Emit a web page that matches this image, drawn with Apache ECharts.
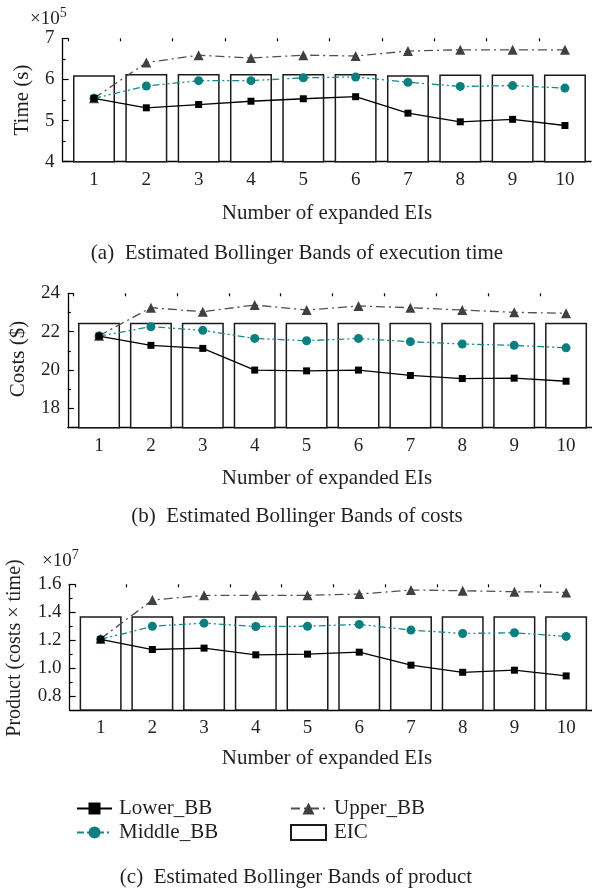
<!DOCTYPE html>
<html><head><meta charset="utf-8">
<script src="https://cdn.jsdelivr.net/npm/echarts@6/dist/echarts.min.js"></script>
<style>html,body{margin:0;padding:0;background:#fff}#c{width:592px;height:892px}</style>
</head><body><div id="c"></div>
<script>
var categories = [1,2,3,4,5,6,7,8,9,10];
var xTickLabels = [1,2,3,4,5,6,7,8,9,10];
var xMinorTicks = [0.5,1.5,2.5,3.5,4.5,5.5,6.5,7.5,8.5,9.5];

// (a) execution time, x10^5 s
var timeLower  = [5.54,5.31,5.39,5.47,5.53,5.58,5.18,4.97,5.03,4.88];
var timeMiddle = [5.54,5.84,5.97,5.97,6.04,6.06,5.93,5.83,5.85,5.79];
var timeUpper  = [5.54,6.41,6.59,6.52,6.59,6.57,6.69,6.72,6.72,6.72];
var timeEIC    = [6.10,6.13,6.13,6.13,6.13,6.13,6.10,6.12,6.12,6.12];
var timeTicks  = [4,5,6,7];
var timeMinor  = [4.5,5.5,6.5];

// (b) costs, $
var costLower  = [21.77,21.29,21.13,20.00,19.96,20.00,19.72,19.56,19.58,19.42];
var costMiddle = [21.77,22.26,22.07,21.65,21.53,21.65,21.48,21.36,21.29,21.16];
var costUpper  = [21.79,23.25,23.04,23.39,23.13,23.34,23.25,23.13,23.01,22.96];
var costEIC    = [22.47,22.47,22.47,22.47,22.47,22.47,22.47,22.47,22.47,22.47];
var costTicks  = [18,20,22,24];
var costMinor  = [19,21,23];

// (c) product, x10^7
var prodLower  = [1.205,1.133,1.143,1.095,1.100,1.114,1.021,0.970,0.985,0.944];
var prodMiddle = [1.205,1.300,1.322,1.298,1.300,1.313,1.272,1.248,1.253,1.227];
var prodUpper  = [1.210,1.487,1.521,1.521,1.521,1.530,1.559,1.554,1.547,1.542];
var prodEIC    = [1.372,1.372,1.372,1.372,1.372,1.372,1.372,1.372,1.372,1.372];
var prodTicks  = [0.8,1.0,1.2,1.4,1.6];
var prodMinor  = [0.9,1.1,1.3,1.5];

var FONT = '"Liberation Serif","DejaVu Serif",serif';
var TXT = '#231f20';
var FS = 19;   // tick labels
var FN = 21;   // axis names, captions, legend

function pairs(arr){ return arr.map(function(v,i){ return [categories[i], v]; }); }

var grids = [
  {left:62.6, top:38.3, width:528.5, height:123.4},
  {left:67.9, top:293.3, width:529.4, height:134.4},
  {left:69.6, top:584.3, width:529.3, height:125.7}
];
var yCfg = [
  {min:4, max:7, ticks:timeTicks, minor:timeMinor, fmt:function(v){return String(v);}},
  {min:17, max:24, ticks:costTicks, minor:costMinor, fmt:function(v){return String(v);}},
  {min:0.7, max:1.6, ticks:prodTicks, minor:prodMinor, fmt:function(v){return v.toFixed(1);}}
];
var sets = [
  [timeLower,timeMiddle,timeUpper,timeEIC],
  [costLower,costMiddle,costUpper,costEIC],
  [prodLower,prodMiddle,prodUpper,prodEIC]
];

var xAxis=[], yAxis=[], series=[];
var axisLine = {show:true, lineStyle:{color:'#000', width:1.3}};
for (var g=0; g<3; g++){
  xAxis.push({gridIndex:g, type:'value', min:0.4, max:10.5,
    axisLine:axisLine, splitLine:{show:false},
    axisTick:{show:true, inside:true, length:6, customValues:xTickLabels, lineStyle:{color:'#000',width:1.2}},
    axisLabel:{show:true, customValues:xTickLabels, margin:9, color:TXT, fontFamily:FONT, fontSize:FS}});
  xAxis.push({gridIndex:g, type:'value', min:0.4, max:10.5,
    axisLine:{show:false}, splitLine:{show:false}, axisLabel:{show:false},
    axisTick:{show:true, inside:true, length:3, customValues:xMinorTicks, lineStyle:{color:'#000',width:1.2}}});
  var yc = yCfg[g];
  yAxis.push({gridIndex:g, type:'value', min:yc.min, max:yc.max,
    axisLine:axisLine, splitLine:{show:false},
    axisTick:{show:true, inside:true, length:6, customValues:yc.ticks, lineStyle:{color:'#000',width:1.2}},
    axisLabel:{show:true, customValues:yc.ticks, formatter:yc.fmt, margin:8, color:TXT, fontFamily:FONT, fontSize:FS}});
  yAxis.push({gridIndex:g, type:'value', min:yc.min, max:yc.max, position:'left', offset:0,
    axisLine:{show:false}, splitLine:{show:false}, axisLabel:{show:false},
    axisTick:{show:true, inside:true, length:3, customValues:yc.minor, lineStyle:{color:'#000',width:1.2}}});
  var s = sets[g];
  var xi = g*2, yi = g*2;
  series.push({name:'EIC', type:'bar', xAxisIndex:xi, yAxisIndex:yi, data:pairs(s[3]), barWidth:42,
    itemStyle:{color:'#fff', borderColor:'#1a1a1a', borderWidth:1.5}, z:1, silent:true});
  series.push({name:'Lower_BB', type:'line', xAxisIndex:xi, yAxisIndex:yi, data:pairs(s[0]),
    symbol:'rect', symbolSize:7, itemStyle:{color:'#000'}, lineStyle:{color:'#000', width:1.3, type:'solid'}, z:4});
  series.push({name:'Middle_BB', type:'line', xAxisIndex:xi, yAxisIndex:yi, data:pairs(s[1]),
    symbol:'circle', symbolSize:9, itemStyle:{color:'#0b7f7f'}, lineStyle:{color:'#168a8a', width:1.3, type:[7,3,2,3,2,3]}, z:3});
  series.push({name:'Upper_BB', type:'line', xAxisIndex:xi, yAxisIndex:yi, data:pairs(s[2]),
    symbol:'triangle', symbolSize:10, itemStyle:{color:'#404040'}, lineStyle:{color:'#505050', width:1.3, type:[9,4,2,4]}, z:3});
}

function txt(x,y,t,opts){
  opts = opts||{};
  return {type:'text', x:x, y:y, rotation:opts.rot||0, z:10,
    style:{text:t, fill:TXT, font:(opts.fs||FN)+'px '+FONT, align:opts.align||'center', verticalAlign:opts.va||'middle'}};
}
var graphic = [
  txt(22,100,'Time (s)',{rot:Math.PI/2}),
  txt(18,359,'Costs ($)',{rot:Math.PI/2}),
  txt(15,648,'Product (costs × time)',{rot:Math.PI/2, fs:20}),
  txt(327,213,'Number of expanded EIs'),
  txt(327,478,'Number of expanded EIs'),
  txt(327,758,'Number of expanded EIs'),
  txt(297,253,'(a)  Estimated Bollinger Bands of execution time'),
  txt(297,516,'(b)  Estimated Bollinger Bands of costs'),
  txt(296,877,'(c)  Estimated Bollinger Bands of product'),
  {type:'text', x:30, y:19, z:10, style:{text:'×10{s|5}', fill:TXT, font:FS+'px '+FONT, align:'left', verticalAlign:'middle',
    rich:{s:{fontSize:14, fontFamily:FONT, verticalAlign:'top', padding:[0,0,12,0], fill:TXT}}}},
  {type:'text', x:42, y:561, z:10, style:{text:'×10{s|7}', fill:TXT, font:FS+'px '+FONT, align:'left', verticalAlign:'middle',
    rich:{s:{fontSize:14, fontFamily:FONT, verticalAlign:'top', padding:[0,0,12,0], fill:TXT}}}}
];

var legendTextL = {color:TXT, fontFamily:FONT, fontSize:FN, padding:[0,0,0,2]};
var legendTextR = {color:TXT, fontFamily:FONT, fontSize:FN, padding:[0,0,0,3]};
var option = {
  animation:false,
  grid:grids, xAxis:xAxis, yAxis:yAxis, series:series, graphic:graphic,
  legend:[
    {orient:'vertical', left:71, top:793, itemWidth:35, itemHeight:15, itemGap:3, textStyle:legendTextL,
      data:['Lower_BB','Middle_BB'], selectedMode:false},
    {orient:'vertical', left:285, top:793, itemWidth:35, itemHeight:15, itemGap:3, textStyle:legendTextR,
      data:['Upper_BB',{name:'EIC', icon:'rect'}], selectedMode:false}
  ]
};
var chart = echarts.init(document.getElementById('c'), null, {renderer:'canvas'});
chart.setOption(option);
</script></body></html>
